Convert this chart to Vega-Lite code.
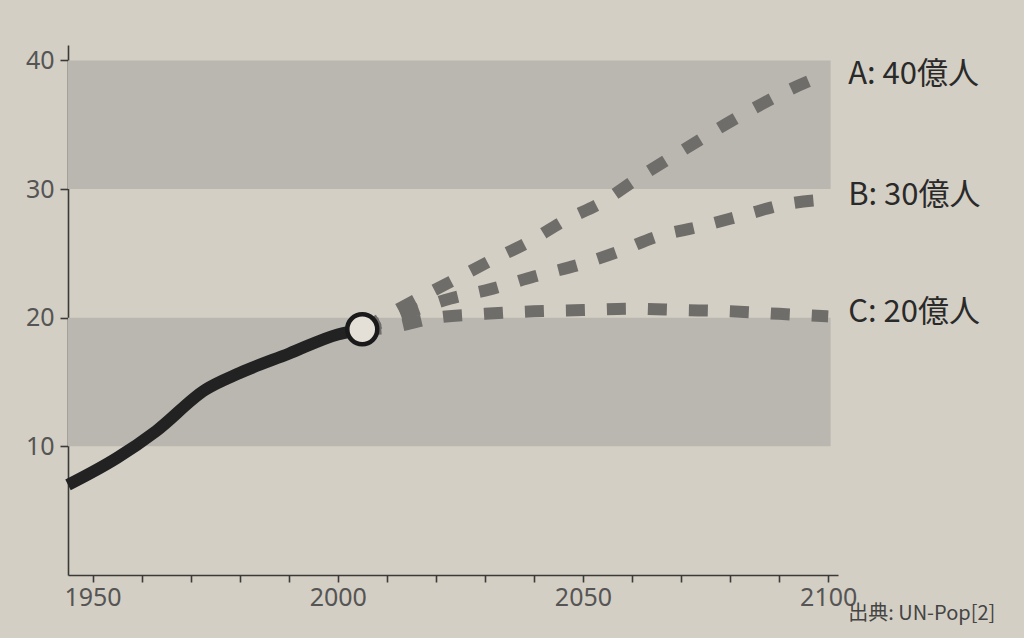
{
  "$schema": "https://vega.github.io/schema/vega-lite/v6.json",
  "width": 770,
  "height": 530,
  "autosize": "none",
  "padding": {"left": 68, "top": 45, "right": 186, "bottom": 63},
  "background": "#d4cfc4",
  "config": {
    "view": {"stroke": null},
    "font": "Noto Sans CJK JP",
    "axis": {"grid": false, "domainColor": "#3a3a3a", "domainWidth": 1.6, "tickColor": "#3a3a3a", "tickWidth": 1.6, "labelColor": "#555555", "labelFontSize": 25, "labelFont": "Noto Sans", "title": null}
  },
  "datasets": {
    "bands": [{"lo": 30, "hi": 40, "x1": 1945, "x2": 2100.5}, {"lo": 10, "hi": 20, "x1": 1945, "x2": 2100.5}],
    "hist": [
      {"year": 1945, "v": 7.0},
      {"year": 1955, "v": 9.1},
      {"year": 1963, "v": 11.2},
      {"year": 1973, "v": 14.4},
      {"year": 1980, "v": 15.7},
      {"year": 1990, "v": 17.2},
      {"year": 2000, "v": 18.7},
      {"year": 2005, "v": 19.1}
    ],
    "proj": [
      {"s": "A", "year": 2005, "v": 19.1},
      {"s": "A", "year": 2013, "v": 20.8},
      {"s": "A", "year": 2023, "v": 22.8},
      {"s": "A", "year": 2031, "v": 24.4},
      {"s": "A", "year": 2039, "v": 25.9},
      {"s": "A", "year": 2046, "v": 27.5},
      {"s": "A", "year": 2054, "v": 29.0},
      {"s": "A", "year": 2061, "v": 30.8},
      {"s": "A", "year": 2069, "v": 32.7},
      {"s": "A", "year": 2084, "v": 36.1},
      {"s": "A", "year": 2092, "v": 37.7},
      {"s": "A", "year": 2100, "v": 39.0},
      {"s": "B", "year": 2005, "v": 19.1},
      {"s": "B", "year": 2013, "v": 20.2},
      {"s": "B", "year": 2023, "v": 21.5},
      {"s": "B", "year": 2031, "v": 22.2},
      {"s": "B", "year": 2040, "v": 23.2},
      {"s": "B", "year": 2049, "v": 24.1},
      {"s": "B", "year": 2057, "v": 25.1},
      {"s": "B", "year": 2065, "v": 26.3},
      {"s": "B", "year": 2074, "v": 27.1},
      {"s": "B", "year": 2083, "v": 28.0},
      {"s": "B", "year": 2091, "v": 28.8},
      {"s": "B", "year": 2100, "v": 29.2},
      {"s": "C", "year": 2005, "v": 19.1},
      {"s": "C", "year": 2010, "v": 19.2},
      {"s": "C", "year": 2020, "v": 20.0},
      {"s": "C", "year": 2030, "v": 20.3},
      {"s": "C", "year": 2040, "v": 20.5},
      {"s": "C", "year": 2050, "v": 20.6},
      {"s": "C", "year": 2060, "v": 20.7},
      {"s": "C", "year": 2070, "v": 20.6},
      {"s": "C", "year": 2080, "v": 20.5},
      {"s": "C", "year": 2090, "v": 20.3},
      {"s": "C", "year": 2100, "v": 20.1}
    ],
    "labels": [
      {"year": 2100, "v": 38.9, "t": "A: 40億人"},
      {"year": 2100, "v": 29.5, "t": "B: 30億人"},
      {"year": 2100, "v": 20.4, "t": "C: 20億人"}
    ],
    "src": [{"year": 2100, "v": -3.0, "t": "出典: UN-Pop[2]"}],
    "pt": [{"year": 2005, "v": 19.1}]
  },
  "layer": [
    {
      "data": {"name": "bands"},
      "mark": {"type": "rect", "color": "#bab7b0"},
      "encoding": {
        "x": {"field": "x1", "type": "quantitative", "scale": {"domain": [1945, 2102], "nice": false, "zero": false},
          "axis": {"values": [1950, 1960, 1970, 1980, 1990, 2000, 2010, 2020, 2030, 2040, 2050, 2060, 2070, 2080, 2090, 2100], "labelExpr": "datum.value % 50 === 0 ? datum.value : ''", "tickSize": 7, "labelPadding": 3, "format": "d"}},
        "x2": {"field": "x2"},
        "y": {"field": "lo", "type": "quantitative", "scale": {"domain": [0, 41.2], "nice": false},
          "axis": {"values": [10, 20, 30, 40], "tickSize": 8, "labelPadding": 6}},
        "y2": {"field": "hi"}
      }
    },
    {
      "data": {"name": "hist"},
      "mark": {"type": "line", "color": "#222222", "strokeWidth": 12, "interpolate": "monotone", "strokeCap": "butt"},
      "encoding": {
        "x": {"field": "year", "type": "quantitative"},
        "y": {"field": "v", "type": "quantitative"}
      }
    },
    {
      "data": {"name": "proj"},
      "mark": {"type": "line", "color": "#6f6d6a", "strokeWidth": 12, "strokeDash": [19, 22], "interpolate": "monotone", "strokeCap": "butt"},
      "encoding": {
        "x": {"field": "year", "type": "quantitative"},
        "y": {"field": "v", "type": "quantitative"},
        "detail": {"field": "s"}
      }
    },
    {
      "data": {"name": "pt"},
      "mark": {"type": "point", "shape": "circle", "size": 900, "filled": true, "fill": "#e4e0d8", "stroke": "#1a1a1a", "strokeWidth": 4.5, "opacity": 1},
      "encoding": {
        "x": {"field": "year", "type": "quantitative"},
        "y": {"field": "v", "type": "quantitative"}
      }
    },
    {
      "data": {"name": "labels"},
      "mark": {"type": "text", "align": "left", "baseline": "middle", "dx": 20, "fontSize": 31, "color": "#2a2a2a", "font": "Noto Sans CJK JP"},
      "encoding": {
        "x": {"field": "year", "type": "quantitative"},
        "y": {"field": "v", "type": "quantitative"},
        "text": {"field": "t"}
      }
    },
    {
      "data": {"name": "src"},
      "mark": {"type": "text", "align": "left", "baseline": "middle", "dx": 20, "fontSize": 20, "color": "#444444", "font": "Noto Sans CJK JP"},
      "encoding": {
        "x": {"field": "year", "type": "quantitative"},
        "y": {"field": "v", "type": "quantitative"},
        "text": {"field": "t"}
      }
    }
  ]
}
